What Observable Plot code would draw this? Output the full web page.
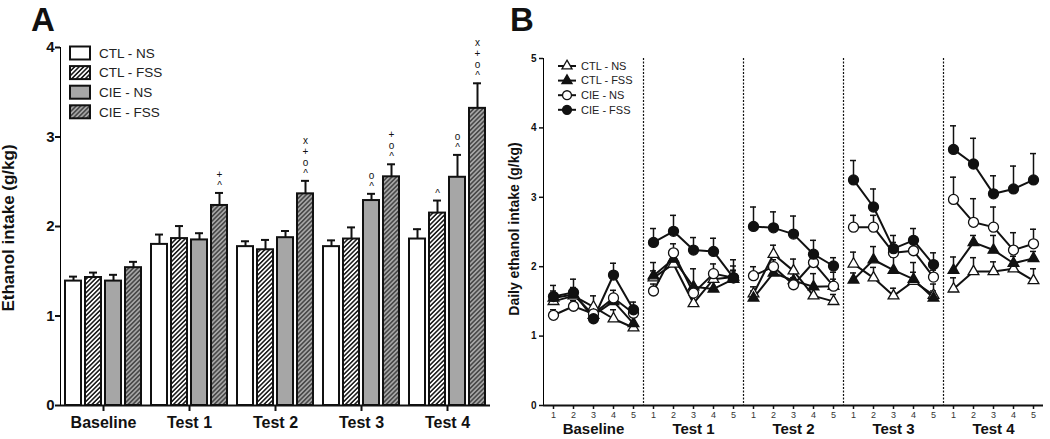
<!DOCTYPE html>
<html><head><meta charset="utf-8">
<script src="https://cdn.jsdelivr.net/npm/d3@7"></script>
<script src="https://cdn.jsdelivr.net/npm/@observablehq/plot@0.6"></script>
<style>
body{margin:0;width:1050px;height:439px;position:relative;background:#fff;overflow:hidden;font-family:"Liberation Sans",Arial,sans-serif;}
#a,#b{position:absolute;top:0}
#a{left:0;width:500px} #b{left:500px;width:550px}
svg{font-family:"Liberation Sans",Arial,sans-serif;overflow:visible}
#a g[aria-label^="fx-axis"] text{font-size:16px;font-weight:bold;fill:#111}
#a g[aria-label^="y-axis"] text{font-size:15px;font-weight:bold;fill:#111}
#a g[aria-label^="y-axis"] path,#a g[aria-label^="y-axis"] line,#a g[aria-label^="fx-axis"] path,#a g[aria-label^="fx-axis"] line{stroke-width:2px;stroke:#111}
#b g[aria-label^="x-axis"] text{font-size:9px;font-weight:normal;fill:#333}
#b g[aria-label^="y-axis"] text{font-size:10px;font-weight:bold;fill:#111}
#b g[aria-label^="y-axis"] path,#b g[aria-label^="y-axis"] line,#b g[aria-label^="x-axis"] path,#b g[aria-label^="x-axis"] line{stroke-width:1.5px;stroke:#111}
</style></head><body>
<div id="a"></div><div id="b"></div>
<script>
// ---------- shared categories ----------
const groups = ["Baseline", "Test 1", "Test 2", "Test 3", "Test 4"];
const series = ["CTL - NS", "CTL - FSS", "CIE - NS", "CIE - FSS"];
const yTicksA = [0, 1, 2, 3, 4];
const yTicksB = [0, 1, 2, 3, 4, 5];
const dayLabels = ["1", "2", "3", "4", "5"];

// ---------- panel A: mean intake per test (g/kg) ----------
const meanA_ctlNS  = [1.39, 1.80, 1.775, 1.775, 1.86];
const meanA_ctlFSS = [1.43, 1.865, 1.74, 1.86, 2.15];
const meanA_cieNS  = [1.39, 1.85, 1.875, 2.29, 2.55];
const meanA_cieFSS = [1.54, 2.235, 2.365, 2.555, 3.32];
const semA_ctlNS   = [0.05, 0.11, 0.06, 0.07, 0.11];
const semA_ctlFSS  = [0.055, 0.14, 0.11, 0.13, 0.14];
const semA_cieNS   = [0.07, 0.075, 0.075, 0.075, 0.25];
const semA_cieFSS  = [0.065, 0.14, 0.145, 0.14, 0.28];
// significance marks, top to bottom
const noteA_ctlNS  = ["", "", "", "", ""];
const noteA_ctlFSS = ["", "", "", "", "^"];
const noteA_cieNS  = ["", "", "", "o^", "o^"];
const noteA_cieFSS = ["", "+^", "x+o^", "+o^", "x+o^"];

// ---------- panel B: daily intake (5 days x 5 phases) ----------
const dayB_ctlNS  = [1.50,1.58,1.42,1.25,1.12, 1.84,2.04,1.47,1.82,1.85, 1.61,2.18,1.94,1.58,1.50, 2.04,1.84,1.58,1.79,1.59, 1.68,1.93,1.93,1.97,1.80];
const dayB_ctlFSS = [1.55,1.60,1.30,1.50,1.18, 1.87,2.11,1.71,1.68,1.82, 1.55,1.91,1.80,1.71,1.72, 1.81,2.10,1.95,1.82,1.55, 1.95,2.35,2.24,2.05,2.12];
const dayB_cieNS  = [1.30,1.43,1.32,1.55,1.33, 1.65,2.20,1.62,1.90,1.84, 1.87,2.00,1.74,2.06,1.72, 2.57,2.57,2.20,2.23,1.85, 2.97,2.64,2.57,2.24,2.33];
const dayB_cieFSS = [1.57,1.63,1.25,1.88,1.38, 2.35,2.51,2.24,2.22,1.84, 2.58,2.56,2.47,2.18,2.01, 3.25,2.86,2.26,2.38,2.03, 3.69,3.48,3.05,3.12,3.25];
const semB_ctlNS  = [0.08,0.10,0.16,0.13,0.10, 0.10,0.10,0.10,0.10,0.10, 0.10,0.13,0.17,0.10,0.10, 0.17,0.15,0.11,0.27,0.16, 0.16,0.20,0.14,0.10,0.17];
const semB_ctlFSS = [0.10,0.10,0.10,0.10,0.10, 0.19,0.10,0.26,0.10,0.19, 0.10,0.10,0.10,0.19,0.20, 0.10,0.19,0.19,0.10,0.10, 0.19,0.10,0.21,0.10,0.10];
const semB_cieNS  = [0.08,0.08,0.08,0.11,0.08, 0.10,0.13,0.10,0.14,0.10, 0.13,0.10,0.10,0.10,0.10, 0.17,0.17,0.15,0.10,0.10, 0.32,0.34,0.29,0.25,0.21];
const semB_cieFSS = [0.16,0.19,0.10,0.17,0.11, 0.20,0.23,0.18,0.19,0.26, 0.28,0.23,0.26,0.20,0.12, 0.28,0.26,0.19,0.17,0.17, 0.34,0.37,0.26,0.33,0.38];

// ---------- build tables ----------
const meansA = [meanA_ctlNS, meanA_ctlFSS, meanA_cieNS, meanA_cieFSS];
const semsA = [semA_ctlNS, semA_ctlFSS, semA_cieNS, semA_cieFSS];
const notesA = [noteA_ctlNS, noteA_ctlFSS, noteA_cieNS, noteA_cieFSS];
const rowsA = [];
series.forEach((s, si) => groups.forEach((g, gi) => rowsA.push({
  group: g, series: s, mean: meansA[si][gi], sem: semsA[si][gi], note: notesA[si][gi]
})));

const daysB = [dayB_ctlNS, dayB_ctlFSS, dayB_cieNS, dayB_cieFSS];
const semsB = [semB_ctlNS, semB_ctlFSS, semB_cieNS, semB_cieFSS];
const rowsB = [];
series.forEach((s, si) => daysB[si].forEach((v, i) => rowsB.push({
  series: s, group: groups[Math.floor(i / 5)], day: i % 5, x: i, mean: v, sem: semsB[si][i]
})));

const font = '"Liberation Sans", Arial, sans-serif';

// ---------- panel A ----------
const plotA = Plot.plot({
  width: 500, height: 439,
  marginLeft: 58, marginRight: 8, marginTop: 47, marginBottom: 34,
  style: {fontFamily: font, fontSize: "15px", background: "white"},
  fx: {domain: groups, padding: 0, label: null, axis: "bottom", tickSize: 6, tickPadding: 5},
  x: {domain: series, axis: null, paddingInner: 0.185, paddingOuter: 0.21},
  y: {domain: [0, 4], ticks: yTicksA, tickFormat: d => String(d), label: null, tickSize: 5, tickPadding: 1, line: true},
  color: {domain: series, range: ["white", "url(#hatchW)", "#a6a6a6", "url(#hatchG)"]},
  marks: [
    Plot.ruleX(rowsA, {fx: "group", x: "series", y1: "mean", y2: d => d.mean + d.sem, stroke: "#111", strokeWidth: 2}),
    Plot.tickY(rowsA, {fx: "group", x: "series", y: d => d.mean + d.sem, stroke: "#111", strokeWidth: 2, insetLeft: 4, insetRight: 4}),
    Plot.barY(rowsA, {fx: "group", x: "series", y: "mean", fill: "series", stroke: "#111", strokeWidth: 2}),
    Plot.text(rowsA.filter(d => d.note), {fx: "group", x: "series", y: d => d.mean + d.sem,
      text: d => d.note.split("").join("\n"), lineAnchor: "bottom", dy: -4, fontSize: 10, lineHeight: 1.1, fill: "#111"}),
    Plot.ruleY([0], {stroke: "#111", strokeWidth: 2})
  ]
});
document.getElementById("a").appendChild(plotA);

// ---------- panel B ----------
const sepPositions = d3.range(1, groups.length).map(i => i * 5 - 0.5);
const plotB = Plot.plot({
  width: 550, height: 439,
  marginLeft: 43, marginRight: 7, marginTop: 58, marginBottom: 34,
  style: {fontFamily: font, fontSize: "10px", background: "white"},
  x: {domain: [-0.5, 24.5], ticks: d3.range(25), tickFormat: i => dayLabels[i % 5], label: null, tickSize: 4, tickPadding: 2},
  y: {domain: [0, 5], ticks: yTicksB, tickFormat: d => String(d), label: null, tickSize: 4, tickPadding: 3, line: true},
  color: {domain: series, range: ["white", "#111", "white", "#111"]},
  marks: [
    Plot.ruleX(sepPositions, {stroke: "#111", strokeWidth: 1.2, strokeDasharray: "2,1.5"}),
    Plot.ruleX(rowsB, {x: "x", y1: "mean", y2: d => d.mean + d.sem, stroke: "#111", strokeWidth: 1.5}),
    Plot.ruleY(rowsB, {y: d => d.mean + d.sem, x1: d => d.x - 0.15, x2: d => d.x + 0.15, stroke: "#111", strokeWidth: 1.5}),
    Plot.line(rowsB, {x: "x", y: "mean", z: d => d.series + d.group, stroke: "#111", strokeWidth: 2}),
    Plot.dot(rowsB.filter(d => d.series.startsWith("CTL")), {x: "x", y: "mean", symbol: "triangle", r: 4, fill: "series", stroke: "#111", strokeWidth: 1.3}),
    Plot.dot(rowsB.filter(d => d.series.startsWith("CIE")), {x: "x", y: "mean", symbol: "circle", r: 5, fill: "series", stroke: "#111", strokeWidth: 1.3}),
    Plot.text(groups, {x: (d, i) => i * 5 + 2, frameAnchor: "bottom", dy: 28, text: d => d, fontSize: 15, fontWeight: "bold", fill: "#111"}),
    Plot.ruleY([0], {stroke: "#111", strokeWidth: 2})
  ]
});
document.getElementById("b").appendChild(plotB);

// ---------- hatch patterns ----------
const svgA = d3.select(plotA.tagName === "svg" ? plotA : plotA.querySelector("svg"));
const defs = svgA.insert("defs", ":first-child");
function hatch(id, bg, fg) {
  const p = defs.append("pattern").attr("id", id).attr("patternUnits", "userSpaceOnUse")
    .attr("width", 3.2).attr("height", 3.2).attr("patternTransform", "rotate(45)");
  p.append("rect").attr("width", 3.2).attr("height", 3.2).attr("fill", bg);
  p.append("line").attr("x1", 0.8).attr("y1", 0).attr("x2", 0.8).attr("y2", 3.2).attr("stroke", fg).attr("stroke-width", 1.5);
}
hatch("hatchW", "white", "#111");
hatch("hatchG", "#a6a6a6", "#444");

// ---------- panel A extras: letter, y label, legend ----------
svgA.append("text").attr("x", 31).attr("y", 31).attr("text-anchor", "start").attr("font-size", 33).attr("font-weight", "bold")
  .attr("fill", "#111").text("A");
svgA.append("text").attr("transform", "translate(14,228) rotate(-90)").attr("text-anchor", "middle")
  .attr("font-size", 17).attr("font-weight", "bold").attr("fill", "#111").text("Ethanol intake (g/kg)");
const legA = svgA.append("g").attr("text-anchor", "start");
const fillsA = ["white", "url(#hatchW)", "#a6a6a6", "url(#hatchG)"];
series.forEach((s, i) => {
  const cy = 53 + i * 19.6;
  legA.append("rect").attr("x", 70).attr("y", cy - 6.5).attr("width", 20).attr("height", 13)
    .attr("fill", fillsA[i]).attr("stroke", "#111").attr("stroke-width", 2);
  legA.append("text").attr("x", 99).attr("y", cy).attr("dy", "0.35em").attr("font-size", 13.5)
    .attr("fill", "#222").text(s);
});

// ---------- panel B extras ----------
const svgB = d3.select(plotB.tagName === "svg" ? plotB : plotB.querySelector("svg"));
svgB.append("text").attr("x", 10).attr("y", 31).attr("text-anchor", "start").attr("font-size", 33).attr("font-weight", "bold")
  .attr("fill", "#111").text("B");
svgB.append("text").attr("transform", "translate(19,229) rotate(-90)").attr("text-anchor", "middle")
  .attr("font-size", 14).attr("font-weight", "bold").attr("fill", "#111").text("Daily ethanol intake (g/kg)");
const legB = svgB.append("g").attr("text-anchor", "start");
const symB = [d3.symbolTriangle, d3.symbolTriangle, d3.symbolCircle, d3.symbolCircle];
const fillB = ["white", "#111", "white", "#111"];
const sizeB = [Math.PI * 14, Math.PI * 14, Math.PI * 20, Math.PI * 20];
series.forEach((s, i) => {
  const cy = 66 + i * 14.6;
  legB.append("line").attr("x1", 58).attr("x2", 76).attr("y1", cy).attr("y2", cy).attr("stroke", "#111").attr("stroke-width", 2);
  legB.append("path").attr("d", d3.symbol(symB[i], sizeB[i])()).attr("transform", `translate(67,${cy})`)
    .attr("fill", fillB[i]).attr("stroke", "#111").attr("stroke-width", 1.3);
  legB.append("text").attr("x", 81).attr("y", cy).attr("dy", "0.35em").attr("font-size", 11)
    .attr("fill", "#222").text(s);
});
</script>
</body></html>
